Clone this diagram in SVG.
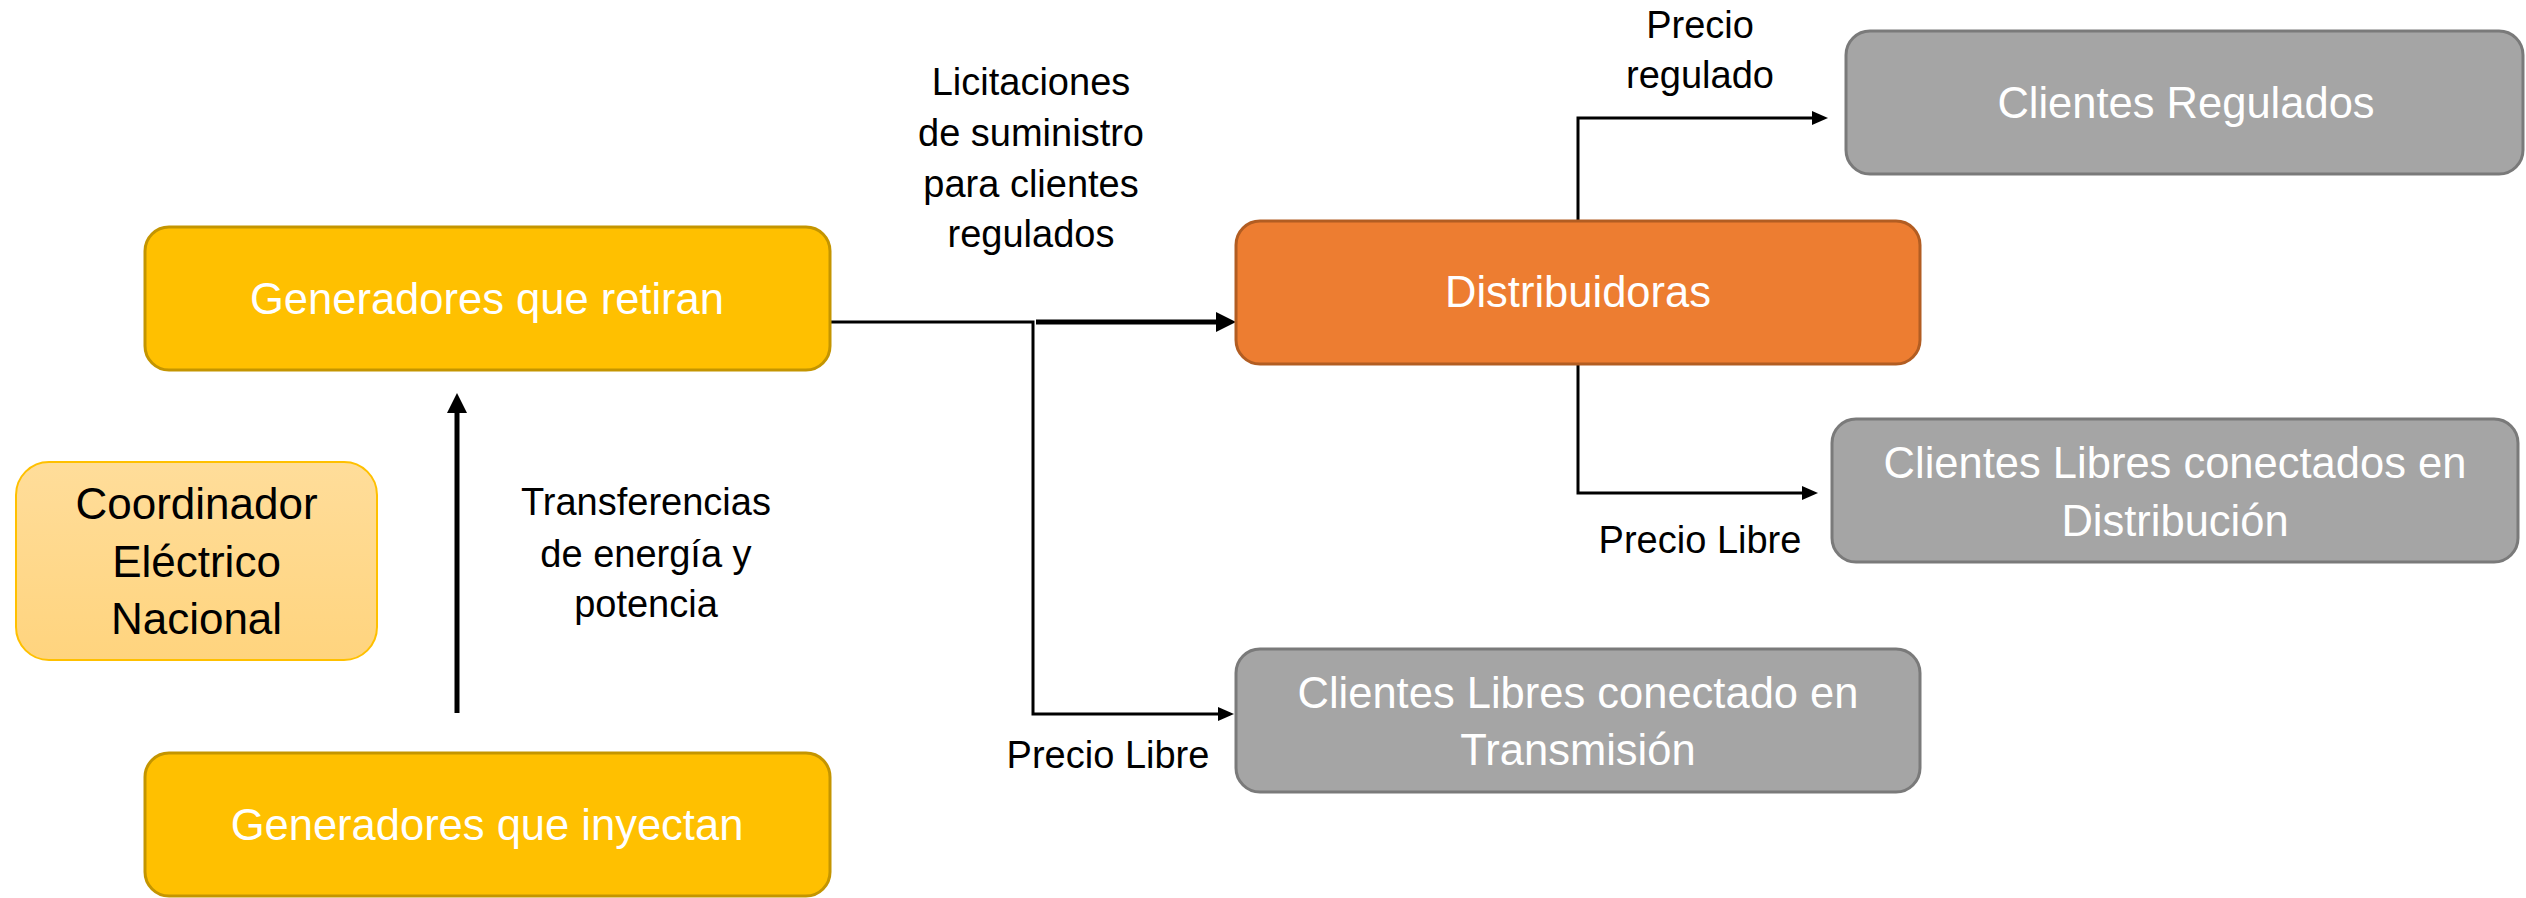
<svg xmlns="http://www.w3.org/2000/svg" width="2526" height="898" viewBox="0 0 2526 898">
<defs>
<style>
.gen{fill:#FFC000;stroke:#C49500;stroke-width:3}
.dist{fill:#ED7D31;stroke:#B25D22;stroke-width:3}
.grey{fill:#A5A5A5;stroke:#7A7A7A;stroke-width:3}
.coord{fill:url(#coordGrad);stroke:#FFC000;stroke-width:2}
.nt{font-family:"Liberation Sans",Arial,sans-serif;font-size:43.5px;fill:#FFFFFF;text-anchor:middle}
.ct{font-family:"Liberation Sans",Arial,sans-serif;font-size:44px;fill:#000000;text-anchor:middle}
.lb{font-family:"Liberation Sans",Arial,sans-serif;font-size:38px;fill:#000000;text-anchor:middle}
.thin{fill:none;stroke:#000;stroke-width:3}
.thick{fill:none;stroke:#000;stroke-width:5}
</style>
<linearGradient id="coordGrad" x1="0" y1="0" x2="0" y2="1">
<stop offset="0" stop-color="#FFDD9A"/>
<stop offset="1" stop-color="#FFD47E"/>
</linearGradient>
<marker id="arrThin" markerUnits="userSpaceOnUse" markerWidth="16" markerHeight="14" refX="6" refY="7" orient="auto">
<path d="M0,0 L16,7 L0,14 Z" fill="#000"/>
</marker>
<marker id="arrThick" markerUnits="userSpaceOnUse" markerWidth="20" markerHeight="20" refX="8" refY="10" orient="auto">
<path d="M0,0 L20,10 L0,20 Z" fill="#000"/>
</marker>
</defs>
<rect width="2526" height="898" fill="#FFFFFF"/>

<g id="connectors">
<path class="thin" d="M830,322 H1033 V714 H1224" marker-end="url(#arrThin)"/>
<path class="thick" d="M1036,322 H1224" marker-end="url(#arrThick)"/>
<path class="thin" d="M1578,221 V118 H1818" marker-end="url(#arrThin)"/>
<path class="thin" d="M1578,364 V493 H1808" marker-end="url(#arrThin)"/>
<path class="thick" d="M457,713 V405" marker-end="url(#arrThick)"/>
</g>

<g id="generadores-retiran">
<rect class="gen" x="145" y="227" width="685" height="143" rx="24"/>
<text class="nt" x="487" y="314">Generadores que retiran</text>
</g>

<g id="generadores-inyectan">
<rect class="gen" x="145" y="753" width="685" height="143" rx="24"/>
<text class="nt" x="487" y="840">Generadores que inyectan</text>
</g>

<g id="coordinador">
<rect class="coord" x="16" y="462" width="361" height="198" rx="33"/>
<text class="ct" x="196.5" y="519">Coordinador</text>
<text class="ct" x="196.5" y="577">Eléctrico</text>
<text class="ct" x="196.5" y="634">Nacional</text>
</g>

<g id="distribuidoras">
<rect class="dist" x="1236" y="221" width="684" height="143" rx="24"/>
<text class="nt" x="1578" y="307">Distribuidoras</text>
</g>

<g id="clientes-regulados">
<rect class="grey" x="1846" y="31" width="677" height="143" rx="24"/>
<text class="nt" x="2186" y="118">Clientes Regulados</text>
</g>

<g id="clientes-libres-distribucion">
<rect class="grey" x="1832" y="419" width="686" height="143" rx="24"/>
<text class="nt" x="2175" y="478">Clientes Libres conectados en</text>
<text class="nt" x="2175" y="536">Distribución</text>
</g>

<g id="clientes-libres-transmision">
<rect class="grey" x="1236" y="649" width="684" height="143" rx="24"/>
<text class="nt" x="1578" y="708">Clientes Libres conectado en</text>
<text class="nt" x="1578" y="765">Transmisión</text>
</g>

<g id="labels">
<text class="lb" x="1031" y="95">Licitaciones</text>
<text class="lb" x="1031" y="146">de suministro</text>
<text class="lb" x="1031" y="197">para clientes</text>
<text class="lb" x="1031" y="247">regulados</text>
<text class="lb" x="1700" y="38">Precio</text>
<text class="lb" x="1700" y="88">regulado</text>
<text class="lb" x="1700" y="553">Precio Libre</text>
<text class="lb" x="1108" y="768">Precio Libre</text>
<text class="lb" x="646" y="515">Transferencias</text>
<text class="lb" x="646" y="567">de energía y</text>
<text class="lb" x="646" y="617">potencia</text>
</g>
</svg>
